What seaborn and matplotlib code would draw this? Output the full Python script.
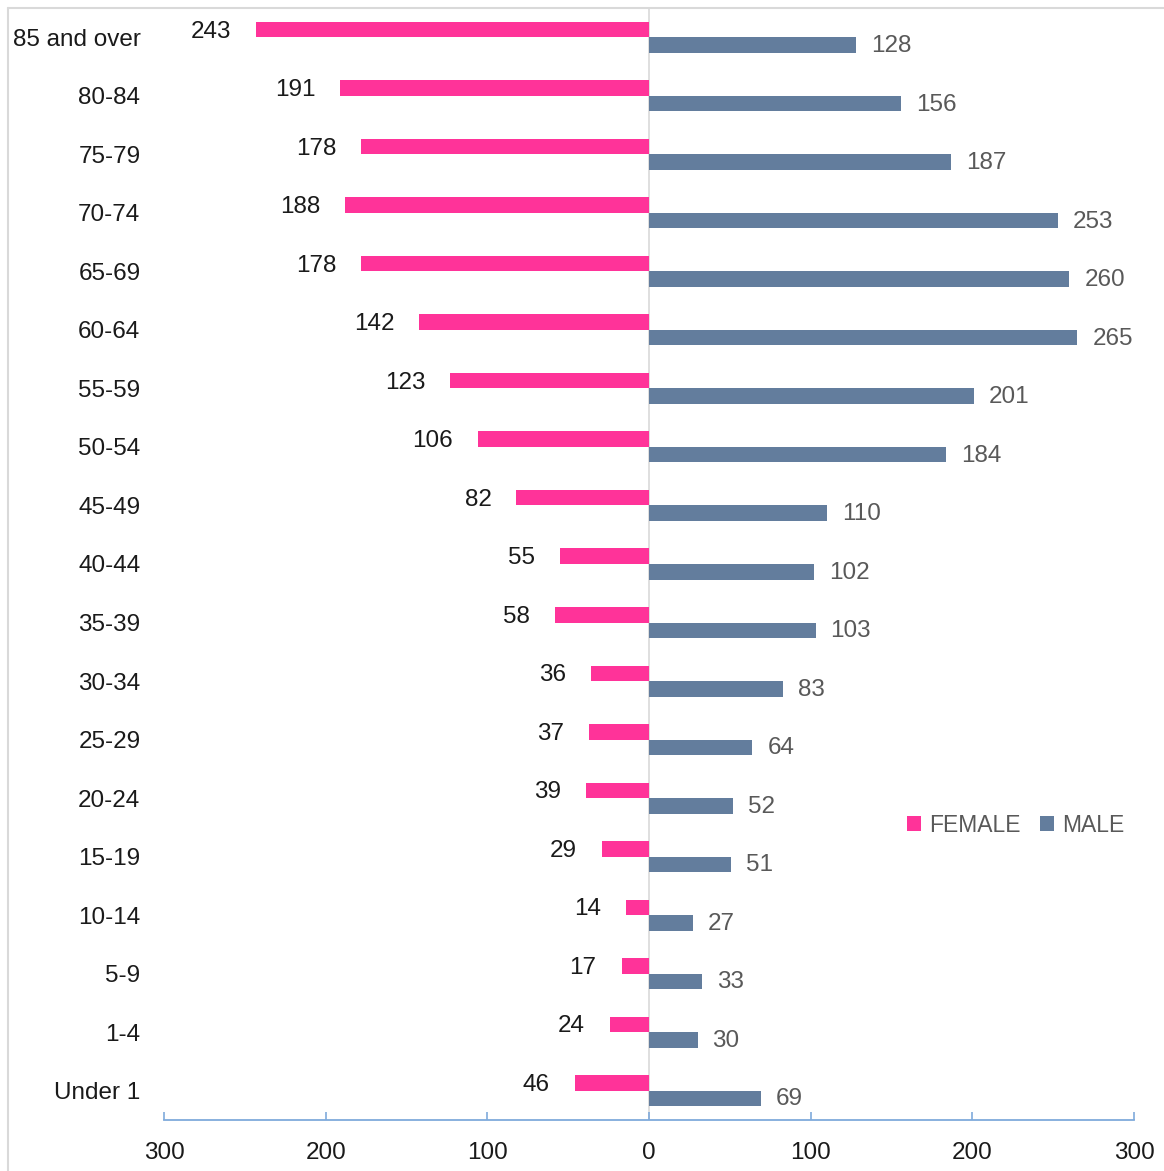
import pandas as pd
import matplotlib.pyplot as plt
import seaborn as sns
from matplotlib.lines import Line2D

# age groups, top to bottom
ages = ['85 and over', '80-84', '75-79', '70-74', '65-69', '60-64', '55-59',
        '50-54', '45-49', '40-44', '35-39', '30-34', '25-29', '20-24',
        '15-19', '10-14', '5-9', '1-4', 'Under 1']
female = [243, 191, 178, 188, 178, 142, 123, 106, 82, 55, 58, 36, 37, 39, 29, 14, 17, 24, 46]
male = [128, 156, 187, 253, 260, 265, 201, 184, 110, 102, 103, 83, 64, 52, 51, 27, 33, 30, 69]
xticks = [-300, -200, -100, 0, 100, 200, 300]

PINK = '#FF3399'
SLATE = '#637D9D'
AXIS_BLUE = '#7FAADB'
GRID_GRAY = '#D9D9D9'

df = pd.concat([
    pd.DataFrame({'age': ages, 'sex': 'FEMALE', 'value': [-v for v in female]}),
    pd.DataFrame({'age': ages, 'sex': 'MALE', 'value': male}),
])

sns.set_theme(style='white')
plt.rcParams['font.family'] = ['Liberation Sans', 'DejaVu Sans']

fig = plt.figure(figsize=(11.64, 11.71), dpi=100)
ax = fig.add_axes([164 / 1164, 1 - 1120 / 1171, 970 / 1164, 1112 / 1171])

sns.barplot(data=df, y='age', x='value', hue='sex', order=ages,
            hue_order=['FEMALE', 'MALE'], palette={'FEMALE': PINK, 'MALE': SLATE},
            orient='h', width=0.53, dodge=True, saturation=1, errorbar=None,
            linewidth=0, ax=ax)

ax.set_xlim(-300, 300)
ax.axvline(0, color=GRID_GRAY, lw=1.2, zorder=0)

# value labels
for bar, v in zip(ax.containers[0], female):
    yc = bar.get_y() + bar.get_height() / 2
    xend = min(bar.get_x(), bar.get_x() + bar.get_width())
    ax.annotate(str(v), (xend, yc), xytext=(-25, -2), textcoords='offset pixels',
                ha='right', va='center', fontsize=17.5, color='#1a1a1a')
for bar, v in zip(ax.containers[1], male):
    yc = bar.get_y() + bar.get_height() / 2
    xend = max(bar.get_x(), bar.get_x() + bar.get_width())
    ax.annotate(str(v), (xend, yc), xytext=(15, -1),
                textcoords='offset pixels', ha='left', va='center',
                fontsize=17.5, color='#595959')

# axes styling
for side in ['left', 'right', 'top']:
    ax.spines[side].set_visible(False)
ax.spines['bottom'].set_color(AXIS_BLUE)
ax.spines['bottom'].set_linewidth(1.3)
ax.set_xticks(xticks)
ax.set_xticklabels([str(abs(t)) for t in xticks])
ax.tick_params(axis='x', direction='in', length=6, width=1.2, color=AXIS_BLUE,
               labelsize=17.5, labelcolor='#1a1a1a', pad=16, bottom=True)
ax.tick_params(axis='y', length=0, labelsize=17.5, labelcolor='#1a1a1a', pad=17)
ax.set_xlabel('')
ax.set_ylabel('')

sns.move_legend(ax, 'center', bbox_to_anchor=(0.878, 0.265), ncol=2, frameon=False,
                title=None, fontsize=16.5, handlelength=0.6, handleheight=0.6,
                handletextpad=0.35, columnspacing=0.85, labelcolor='#595959')

# chart area border (left and top)
fig.add_artist(Line2D([8 / 1164, 1], [1 - 8 / 1171] * 2, transform=fig.transFigure,
                      color=GRID_GRAY, lw=1.5))
fig.add_artist(Line2D([8 / 1164] * 2, [0, 1 - 8 / 1171], transform=fig.transFigure,
                      color=GRID_GRAY, lw=1.5))

fig.savefig('out.png', dpi=100, facecolor='white')
